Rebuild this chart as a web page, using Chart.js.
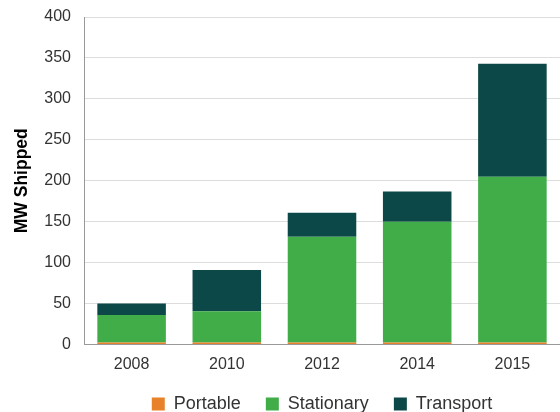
<!DOCTYPE html>
<html>
<head>
<meta charset="utf-8">
<script src="https://cdn.jsdelivr.net/npm/chart.js@4/dist/chart.umd.min.js"></script>
<style>
  html, body { margin: 0; padding: 0; background: #fff; }
  #wrap { width: 560px; height: 412px; overflow: hidden; }
  canvas { display: block; }
</style>
</head>
<body>
<div id="wrap"><canvas id="mwChart" width="560" height="423"></canvas></div>
<script>
const years = ['2008', '2010', '2012', '2014', '2015'];
const portable = [2.5, 2.5, 2.5, 2.5, 2.5];
const stationary = [33.5, 38, 129, 147.5, 202.5];
const transport = [14, 50.5, 29.5, 37, 138];
const yTicks = [0, 50, 100, 150, 200, 250, 300, 350, 400];

const ctx = document.getElementById('mwChart').getContext('2d');
new Chart(ctx, {
  type: 'bar',
  data: {
    labels: years,
    datasets: [
      { label: 'Portable', data: portable, backgroundColor: '#E8822A' },
      { label: 'Stationary', data: stationary, backgroundColor: '#41AD49' },
      { label: 'Transport', data: transport, backgroundColor: '#0D4848' }
    ]
  },
  options: {
    responsive: false,
    animation: false,
    layout: { padding: { top: 17, right: -1, left: 2, bottom: 0 } },
    datasets: { bar: { barPercentage: 0.72, categoryPercentage: 1 } },
    scales: {
      x: {
        stacked: true,
        grid: { display: false, drawTicks: false },
        border: { color: '#999' },
        ticks: { color: '#333', font: { family: 'Liberation Sans', size: 16, lineHeight: 1 }, padding: 12 },
        afterFit: axis => { axis.height = 25.5; }
      },
      y: {
        stacked: true,
        min: 0,
        max: 400,
        afterBuildTicks: axis => { axis.ticks = yTicks.map(v => ({ value: v })); },
        afterFit: axis => {
          axis.width = 82;
          axis.paddingTop = 0;
        },
        grid: { color: '#ddd', drawTicks: false },
        border: { color: '#999' },
        ticks: { color: '#333', font: { family: 'Liberation Sans', size: 16 }, padding: 13 },
        title: {
          display: true,
          text: 'MW Shipped',
          color: '#000',
          font: { family: 'Liberation Sans', size: 17.5, weight: 'bold' },
          padding: { top: 10, bottom: 0 }
        }
      }
    },
    plugins: {
      legend: {
        position: 'bottom',
        fullSize: false,
        labels: {
          boxWidth: 13,
          boxHeight: 13,
          padding: 25,
          color: '#333',
          font: { family: 'Liberation Sans', size: 18, lineHeight: 1 }
        }
      },
      tooltip: { enabled: false }
    }
  }
});
</script>
</body>
</html>
